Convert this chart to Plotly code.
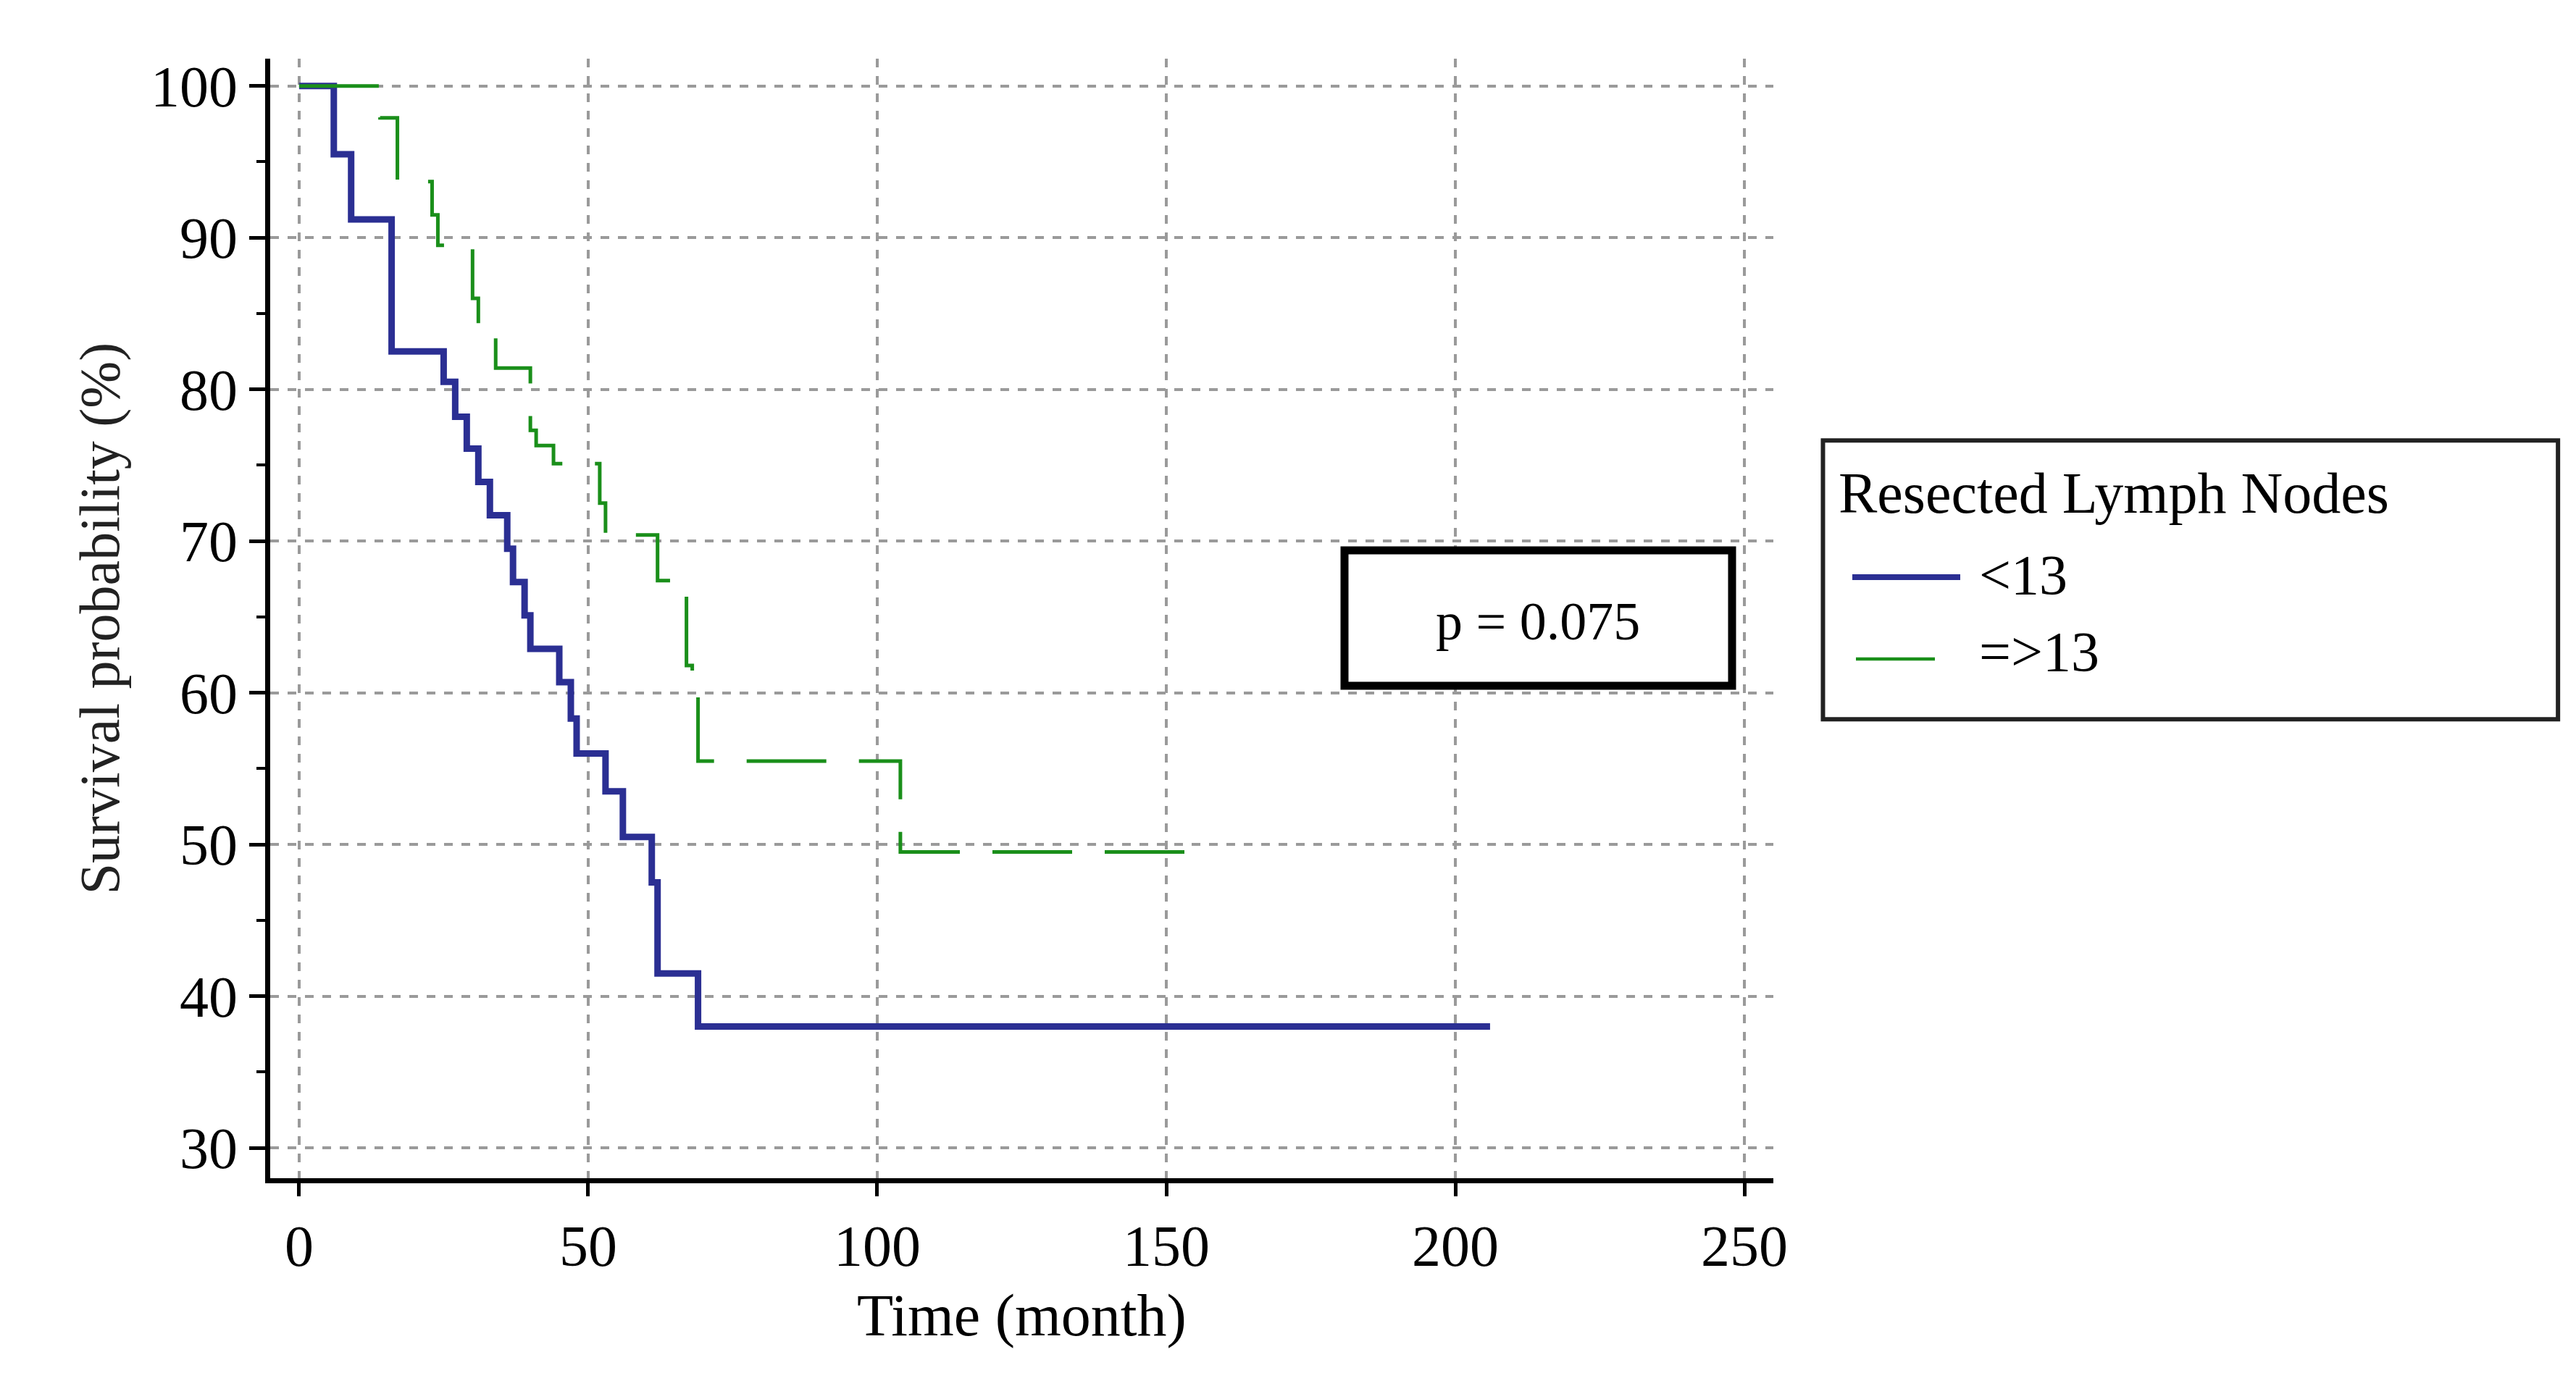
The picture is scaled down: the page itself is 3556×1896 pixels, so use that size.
import plotly.graph_objects as go

blue_t = [0, 6, 9, 16, 25, 27, 29, 31, 33, 36, 37, 39, 40, 45, 47, 48, 53, 56, 61, 62, 69, 206]
blue_s = [100, 95.5, 91.2, 82.5, 80.5, 78.2, 76.1, 73.9, 71.7, 69.5, 67.3, 65.1, 62.9, 60.7, 58.3, 56.0, 53.5, 50.5, 47.5, 41.5, 38.0, 38.0]
green_t = [0, 14, 17, 23, 24, 30, 31, 34, 40, 41, 44, 52, 53, 62, 67, 68, 69, 103, 104, 157]
green_s = [100, 97.9, 93.7, 91.5, 89.5, 86.0, 83.5, 81.4, 77.3, 76.3, 75.1, 72.5, 70.4, 67.4, 61.8, 60.0, 55.5, 55.5, 49.5, 49.5]
x_ticks = [0, 50, 100, 150, 200, 250]
y_ticks = [30, 40, 50, 60, 70, 80, 90, 100]

F = "Liberation Serif"
fig = go.Figure()
fig.add_trace(go.Scatter(x=blue_t, y=blue_s, mode="lines", line=dict(shape="hv", color="#2b2f93", width=9), showlegend=False))
fig.add_trace(go.Scatter(x=green_t, y=green_s, mode="lines", line=dict(shape="hv", color="#1a8f1a", width=5, dash="110px,45px"), showlegend=False))

grid = dict(showgrid=True, gridcolor="#9a9a9a", gridwidth=4, griddash="dash")
fig.update_xaxes(range=[-5, 255], tickvals=x_ticks, **grid, showline=True, linecolor="black", linewidth=7,
                 ticks="outside", ticklen=18, tickwidth=5, tickcolor="black",
                 tickfont=dict(family=F, size=80, color="black"),
                 title=dict(text="Time (month)", font=dict(family=F, size=82, color="black"), standoff=25), zeroline=False)
fig.update_yaxes(range=[28, 101.8], tickvals=y_ticks, **grid, showline=True, linecolor="black", linewidth=7,
                 ticks="outside", ticklen=22, tickwidth=5, tickcolor="black",
                 minor=dict(dtick=5, ticks="outside", ticklen=12, tickwidth=4, tickcolor="black", showgrid=False),
                 tickfont=dict(family=F, size=80, color="black"),
                 title=dict(text="Survival probability (%)", font=dict(family=F, size=78, color="#222"), standoff=20), zeroline=False)

shapes = [
    dict(type="rect", xref="paper", yref="paper", x0=(1848-365)/2075, x1=(2383-365)/2075,
         y0=(1619-939)/1546, y1=(1619-752)/1546, line=dict(color="black", width=11), fillcolor="white"),
    dict(type="rect", xref="paper", yref="paper", x0=1.033, x1=1.522, y0=0.410, y1=0.659,
         line=dict(color="#222", width=6), fillcolor="white"),
    dict(type="line", xref="paper", yref="paper", x0=(2549-365)/2075, x1=(2698-365)/2075,
         y0=(1619-789)/1546, y1=(1619-789)/1546, line=dict(color="#2b2f93", width=8)),
    dict(type="line", xref="paper", yref="paper", x0=(2554-365)/2075, x1=(2663-365)/2075,
         y0=(1619-902)/1546, y1=(1619-902)/1546, line=dict(color="#1a8f1a", width=4.5)),
]
anns = [
    dict(xref="paper", yref="paper", x=(2115-365)/2075, y=(1619-850)/1546, text="p = 0.075", showarrow=False,
         xanchor="center", yanchor="middle", font=dict(family=F, size=74, color="black")),
    dict(xref="paper", yref="paper", x=(2528-365)/2075, y=(1619-673)/1546, text="Resected Lymph Nodes", showarrow=False,
         xanchor="left", yanchor="middle", font=dict(family=F, size=80, color="black")),
    dict(xref="paper", yref="paper", x=(2722-365)/2075, y=(1619-785)/1546, text="<13", showarrow=False,
         xanchor="left", yanchor="middle", font=dict(family=F, size=78, color="black")),
    dict(xref="paper", yref="paper", x=(2722-365)/2075, y=(1619-892)/1546, text="=>13", showarrow=False,
         xanchor="left", yanchor="middle", font=dict(family=F, size=78, color="black")),
]
fig.update_layout(width=3556, height=1896, margin=dict(l=365, r=1116, t=73, b=277),
                  plot_bgcolor="white", paper_bgcolor="white", shapes=shapes, annotations=anns)
fig.write_html("out.html")
